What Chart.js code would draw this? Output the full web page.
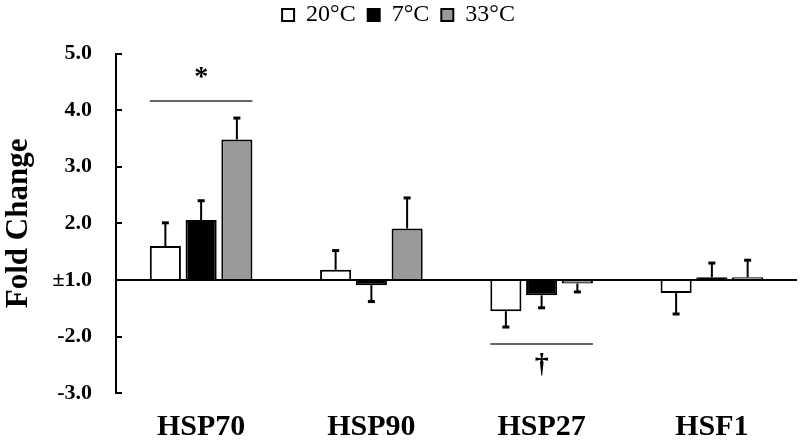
<!DOCTYPE html>
<html lang="en">
<head>
<meta charset="UTF-8">
<title>Fold Change</title>
<script src="https://cdn.jsdelivr.net/npm/chart.js"></script>
<style>
  html, body { margin: 0; padding: 0; background: #fff; }
</style>
</head>
<body>
<canvas id="foldChart" width="800" height="443"></canvas>
<script>
const genes = ['HSP70', 'HSP90', 'HSP27', 'HSF1'];
const temps = ['20°C', '7°C', '33°C'];

// fold change (the baseline is ±1.0)
const fold20 = [1.60, 1.18, -1.55, -1.23];
const fold7  = [2.06, -1.09, -1.27, 1.05];
const fold33 = [3.48, 1.91, -1.06, 1.05];

// error bar length, axis units (only drawn away from the baseline)
const err20 = [0.41, 0.34, 0.28, 0.37];
const err7  = [0.34, 0.29, 0.22, 0.25];
const err33 = [0.38, 0.54, 0.15, 0.30];

const yTickLabels = ['-3.0', '-2.0', '±1.0', '2.0', '3.0', '4.0', '5.0'];

// significance marks: which gene, level of the line, level of the symbol
const sigGenes = [0, 2];
const sigLineAt = [4.16, -2.13];
const sigMarkAt = [4.58, -2.50];
const sigSymbols = ['*', '†'];

// fold axis has no (-1, 1) gap, so shift the values onto a linear scale
function toAxis(f) {
    if (f >= 1) return f - 1;
    if (f <= -1) return f + 1;
    return 0;
}

const serif = "'Liberation Serif', 'Times New Roman', serif";

// extra room under the legend so the plot starts lower
const legendGap = {
    id: 'legendGap',
    beforeInit(chart) {
        const fit = chart.legend.fit;
        chart.legend.fit = function () {
            fit.bind(chart.legend)();
            this.height += 16.5;
        };
    }
};

const overlay = {
    id: 'overlay',
    afterDatasetsDraw(chart) {
        const ctx = chart.ctx;
        const y = chart.scales.y;
        ctx.save();
        ctx.strokeStyle = '#000';

        // error bars
        chart.data.datasets.forEach((ds, di) => {
            const meta = chart.getDatasetMeta(di);
            meta.data.forEach((bar, i) => {
                const v = ds.data[i];
                const e = ds.errors[i];
                const tip = y.getPixelForValue(v >= 0 ? v + e : v - e);
                ctx.lineWidth = 2;
                ctx.beginPath();
                ctx.moveTo(bar.x, bar.y);
                ctx.lineTo(bar.x, tip);
                ctx.stroke();
                ctx.lineWidth = 3;
                ctx.beginPath();
                ctx.moveTo(bar.x - 3.5, tip);
                ctx.lineTo(bar.x + 3.5, tip);
                ctx.stroke();
            });
        });

        // significance lines and symbols
        const first = chart.getDatasetMeta(0);
        const last = chart.getDatasetMeta(chart.data.datasets.length - 1);
        sigGenes.forEach((g, k) => {
            const b0 = first.data[g];
            const b1 = last.data[g];
            const x1 = b0.x - b0.width / 2;
            const x2 = b1.x + b1.width / 2;
            const ly = y.getPixelForValue(toAxis(sigLineAt[k]));
            ctx.strokeStyle = '#333';
            ctx.lineWidth = 1.5;
            ctx.beginPath();
            ctx.moveTo(x1, ly);
            ctx.lineTo(x2, ly);
            ctx.stroke();

            ctx.fillStyle = '#000';
            ctx.font = 'bold 28px ' + serif;
            ctx.textAlign = 'center';
            ctx.textBaseline = 'middle';
            ctx.fillText(sigSymbols[k], (x1 + x2) / 2, y.getPixelForValue(toAxis(sigMarkAt[k])));
        });
        ctx.restore();
    }
};

const ctx = document.getElementById('foldChart').getContext('2d');
new Chart(ctx, {
    type: 'bar',
    data: {
        labels: genes,
        datasets: [
            { label: temps[0], data: fold20.map(toAxis), errors: err20,
              backgroundColor: '#ffffff', borderColor: '#000', borderWidth: 2 },
            { label: temps[1], data: fold7.map(toAxis), errors: err7,
              backgroundColor: '#000000', borderColor: '#000', borderWidth: 2 },
            { label: temps[2], data: fold33.map(toAxis), errors: err33,
              backgroundColor: '#999999', borderColor: '#000', borderWidth: 2 }
        ]
    },
    options: {
        responsive: false,
        animation: false,
        categoryPercentage: 0.63,
        barPercentage: 0.87,
        layout: { padding: { left: 0, right: 3, top: -9, bottom: 0 } },
        plugins: {
            tooltip: { enabled: false },
            legend: {
                position: 'top',
                labels: {
                    color: '#000',
                    font: { family: serif, size: 24 },
                    boxWidth: 12,
                    boxHeight: 12,
                    padding: 12
                }
            }
        },
        scales: {
            x: {
                grid: { display: false, drawTicks: false },
                border: { display: false },
                ticks: {
                    color: '#000',
                    font: { family: serif, size: 30, weight: 'bold', lineHeight: 1 },
                    padding: 19
                },
                afterFit: s => { s.height = 49.7; }
            },
            y: {
                min: -2,
                max: 4,
                border: { display: true, color: '#000', width: 2 },
                grid: {
                    color: c => (c.tick && c.tick.value === 0 ? '#000' : 'rgba(0,0,0,0)'),
                    lineWidth: 2,
                    tickColor: '#000',
                    tickLength: -6,
                    drawTicks: true
                },
                ticks: {
                    stepSize: 1,
                    color: '#000',
                    font: { family: serif, size: 22, weight: 'bold' },
                    padding: 30,
                    callback: v => yTickLabels[v + 2]
                },
                title: {
                    display: true,
                    text: 'Fold Change',
                    color: '#000',
                    font: { family: serif, size: 31, weight: 'bold' },
                    padding: 0
                },
                afterFit: s => { s.width = 116; }
            }
        }
    },
    plugins: [legendGap, overlay]
});
</script>
</body>
</html>
